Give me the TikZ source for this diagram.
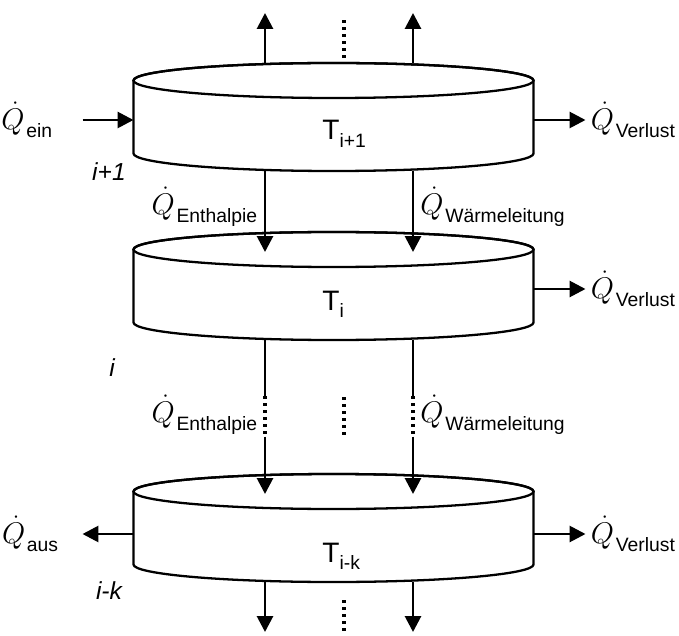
\RequirePackage{fix-cm}
\documentclass[tikz,border=0pt]{standalone}
\usepackage{amsmath}
\usepackage{fontspec}
\setmainfont{Liberation Sans}
\usepackage{tikz}
\usetikzlibrary{
	arrows.meta,
	calc,
	positioning
}
\newcommand{\qflow}[1]{{\fontsize{17}{20}\selectfont$\dot{Q}$}\kern1pt\raisebox{-5pt}{\fontsize{11}{13}\selectfont #1}}
\newcommand{\tlayer}[1]{{\fontsize{16}{19}\selectfont T}\raisebox{-4pt}{\fontsize{11}{13}\selectfont #1}}
\tikzset{
	layer/.pic={
		\draw[line width=1.3pt, fill=white] (-4,0.73) -- (-4,-0.73)
			arc[start angle=180, end angle=360, x radius=4, y radius=0.35] -- (4,0.73)
			arc[start angle=0, end angle=180, x radius=4, y radius=0.35] -- cycle;
		\draw[line width=1.3pt] (0,0.73) ellipse[x radius=4, y radius=0.35];
		\coordinate (-n) at (0,1.08);
		\coordinate (-s) at (0,-1.08);
		\coordinate (-w) at (-4,0);
		\coordinate (-e) at (4,0);
		\coordinate (-c) at (0,0);
	}
}

\begin{document}
\begin{tikzpicture}[
		flow/.style={line width=1.6pt, -{Triangle[length=9pt,width=9pt]}},
		dots/.style={line width=2pt, dash pattern=on 1.8pt off 2.2pt},
		lbl/.style={inner sep=0pt},
		idx/.style={font=\fontsize{14}{16}\selectfont\itshape, inner sep=0pt}
	]
		\useasboundingbox (0,0) rectangle (13.58,12.7);
		
		% Schichten
		\pic (L1) at (6.67,10.36) {layer};
		\pic (L2) at (6.67,6.98) {layer};
		\pic (L3) at (6.67,2.14) {layer};
		
		\node[lbl, anchor=base west] (T1) at ($(L1-c)+(-0.23,-0.46)$) {\tlayer{i+1}};
		\node[lbl, anchor=base west] (T2) at ($(L2-c)+(-0.23,-0.48)$) {\tlayer{i}};
		\node[lbl, anchor=base west] (T3) at ($(L3-c)+(-0.23,-0.68)$) {\tlayer{i-k}};
		
		% Schichtindex
		\node[idx] (n1) at (2.18,9.26) {i+1};
		\node[idx] (n2) at (2.24,5.34) {i};
		\node[idx] (n3) at (2.18,0.88) {i-k};
		
		% vertikale Stroeme
		\foreach \s/\dx in {a/-1.37,b/1.59} {
			\coordinate (top\s) at ($(L1-n)+(\dx,1)$);
			\coordinate (brk\s) at ($(L2-s)+(\dx,-1.12)$);
			\coordinate (res\s) at ($(L2-s)+(\dx,-1.93)$);
			\coordinate (bot\s) at ($(L3-s)+(\dx,-1)$);
			\draw[flow] ($(L1-n)+(\dx,0)$) -- (top\s);
			\draw[flow] ($(L1-s)+(\dx,0)$) -- ($(L2-n)+(\dx,-0.4)$);
			\draw[line width=1.6pt] ($(L2-s)+(\dx,0)$) -- (brk\s);
			\draw[dots] (brk\s) -- (res\s);
			\draw[flow] (res\s) -- ($(L3-n)+(\dx,-0.4)$);
			\draw[flow] ($(L3-s)+(\dx,0)$) -- (bot\s);
		}
		
		% Punkte
		\draw[dots] ($(L1-n)+(0.21,0.1)$) -- ($(L1-n)+(0.21,0.86)$);
		\draw[dots] ($(L2-s)+(0.21,-1.14)$) -- ($(L2-s)+(0.21,-1.92)$);
		\draw[dots] ($(L3-s)+(0.21,-0.36)$) -- ($(L3-s)+(0.21,-0.98)$);
		
		% seitliche Stroeme
		\coordinate (ein) at ($(L1-w)+(-1.02,-0.06)$);
		\coordinate (aus) at ($(L3-w)+(-1.02,-0.12)$);
		\coordinate (v1) at ($(L1-e)+(1.04,-0.06)$);
		\coordinate (v2) at ($(L2-e)+(1.04,-0.06)$);
		\coordinate (v3) at ($(L3-e)+(1.04,-0.12)$);
		\draw[flow] (ein) -- ($(L1-w)+(0,-0.06)$);
		\draw[flow] ($(L3-w)+(0,-0.12)$) -- (aus);
		\draw[flow] ($(L1-e)+(0,-0.06)$) -- (v1);
		\draw[flow] ($(L2-e)+(0,-0.06)$) -- (v2);
		\draw[flow] ($(L3-e)+(0,-0.12)$) -- (v3);
		
		% Beschriftung
		\node[lbl, left=0.6cm of ein] (qein) {\qflow{ein}};
		\node[lbl, left=0.48cm of aus] (qaus) {\qflow{aus}};
		\node[lbl, right=0.1cm of v1] (qv1) {\qflow{Verlust}};
		\node[lbl, right=0.1cm of v2] (qv2) {\qflow{Verlust}};
		\node[lbl, right=0.1cm of v3] (qv3) {\qflow{Verlust}};
		\node[lbl, anchor=east] (qh1) at ($(L2-n)+(-1.52,0.5)$) {\qflow{Enthalpie}};
		\node[lbl, anchor=west] (qw1) at ($(L2-n)+(1.73,0.5)$) {\qflow{Wärmeleitung}};
		\node[lbl, anchor=east] (qh2) at ($(L2-s)+(-1.52,-1.5)$) {\qflow{Enthalpie}};
		\node[lbl, anchor=west] (qw2) at ($(L2-s)+(1.73,-1.5)$) {\qflow{Wärmeleitung}};
\end{tikzpicture}
\end{document}
